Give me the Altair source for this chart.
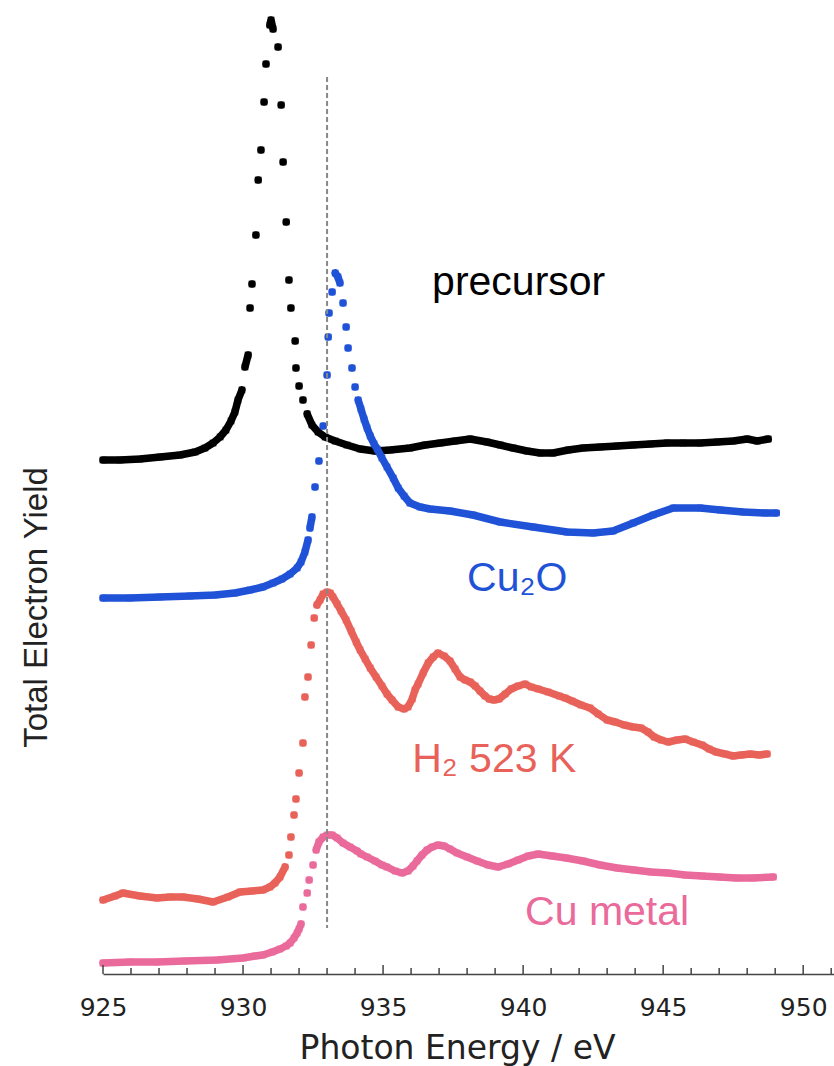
import altair as alt
import pandas as pd

# ---- data: photon energy (eV) and plotted (offset) yield (arb. units)
prec_x = [925.00, 925.61, 926.32, 927.04, 927.75, 928.29, 928.64, 928.93, 929.18, 929.39,
          929.57, 929.71, 929.82, 929.96, 930.07, 930.18, 930.25, 930.32, 930.46, 930.54,
          930.64, 930.75, 930.82, 930.96, 931.00, 931.07, 931.25, 931.36, 931.43, 931.54,
          931.64, 931.71, 931.86, 931.89, 932.00, 932.14, 932.29, 932.46, 932.68, 932.93,
          933.29, 933.71, 934.18, 934.71, 935.25, 935.96, 936.50, 937.04, 937.57, 938.11,
          938.71, 939.18, 939.64, 940.14, 940.61, 941.07, 941.61, 942.14, 942.75, 943.36,
          943.93, 944.54, 945.14, 945.71, 946.32, 946.93, 947.50, 948.00, 948.36, 948.75]
prec_y = [51.4, 51.4, 51.5, 51.7, 51.9, 52.2, 52.6, 53.1, 53.7, 54.4,
          55.3, 56.2, 57.4, 58.4, 60.7, 61.9, 66.6, 69.0, 73.9, 79.4,
          82.4, 87.2, 91.0, 94.9, 95.4, 94.5, 92.7, 86.9, 81.2, 75.2,
          69.4, 66.6, 63.3, 60.6, 58.8, 57.4, 56.0, 54.9, 54.2, 53.7,
          53.3, 52.9, 52.5, 52.3, 52.4, 52.6, 52.9, 53.1, 53.3, 53.5,
          53.2, 52.9, 52.6, 52.3, 52.1, 52.1, 52.4, 52.6, 52.7, 52.8,
          52.9, 53.0, 53.1, 53.1, 53.1, 53.2, 53.3, 53.5, 53.3, 53.5]

cu2o_x = [925.00, 925.96, 927.04, 928.11, 929.00, 929.71, 930.25, 930.71, 931.07, 931.39,
          931.68, 931.93, 932.07, 932.21, 932.32, 932.39, 932.46, 932.57, 932.71, 932.86,
          933.00, 933.04, 933.07, 933.18, 933.29, 933.39, 933.46, 933.57, 933.68, 933.75,
          933.89, 934.00, 934.11, 934.21, 934.32, 934.43, 934.54, 934.68, 934.79, 934.96,
          935.14, 935.36, 935.54, 935.75, 935.96, 936.32, 936.68, 937.39, 938.21, 939.18,
          940.36, 941.57, 942.50, 943.21, 943.93, 944.64, 945.36, 946.32, 947.04, 947.86,
          948.64, 949.04]
cu2o_y = [37.6, 37.6, 37.7, 37.8, 37.9, 38.1, 38.4, 38.7, 39.1, 39.5,
          40.0, 40.6, 41.2, 42.2, 43.4, 44.6, 45.7, 48.7, 51.3, 54.8,
          59.9, 63.7, 66.1, 68.2, 70.1, 69.7, 69.1, 67.1, 64.7, 62.6,
          60.6, 58.7, 57.4, 56.5, 55.5, 54.6, 53.8, 53.0, 52.5, 51.6,
          50.7, 49.6, 48.6, 47.8, 47.1, 46.7, 46.5, 46.3, 45.9, 45.2,
          44.7, 44.2, 44.1, 44.3, 45.1, 45.9, 46.6, 46.6, 46.4, 46.2,
          46.1, 46.1]

h2_x = [925.00, 925.43, 925.71, 926.32, 926.93, 927.39, 927.86, 928.39, 928.93, 929.46,
        929.89, 930.32, 930.71, 930.96, 931.14, 931.32, 931.50, 931.64, 931.71, 931.82,
        931.89, 932.00, 932.14, 932.21, 932.32, 932.43, 932.54, 932.64, 932.75, 932.86,
        933.00, 933.11, 933.21, 933.36, 933.50, 933.68, 933.86, 934.04, 934.18, 934.36,
        934.54, 934.75, 934.96, 935.14, 935.32, 935.54, 935.75, 935.89, 936.04, 936.14,
        936.25, 936.43, 936.61, 936.79, 936.96, 937.18, 937.39, 937.57, 937.75, 937.93,
        938.11, 938.29, 938.46, 938.64, 938.79, 938.96, 939.14, 939.36, 939.57, 939.82,
        940.07, 940.29, 940.54, 940.89, 941.29, 941.50, 941.75, 942.07, 942.39, 942.68,
        943.00, 943.29, 943.61, 943.93, 944.21, 944.46, 944.68, 944.93, 945.18, 945.50,
        945.79, 946.07, 946.39, 946.64, 946.89, 947.21, 947.50, 947.79, 948.11, 948.43,
        948.71]
h2_y = [7.4, 7.8, 8.1, 7.8, 7.6, 7.7, 7.7, 7.5, 7.2, 7.7,
        8.2, 8.3, 8.4, 8.7, 9.1, 9.7, 10.7, 11.9, 13.7, 15.9,
        17.5, 20.1, 23.1, 27.7, 29.7, 32.9, 35.6, 36.9, 37.4, 38.0,
        38.2, 38.1, 37.7, 37.0, 36.3, 35.4, 34.3, 33.2, 32.4, 31.5,
        30.6, 29.7, 28.8, 28.0, 27.4, 26.7, 26.5, 26.7, 27.5, 28.4,
        29.0, 30.1, 31.1, 31.7, 32.1, 31.8, 31.3, 30.5, 29.7, 29.4,
        29.2, 28.8, 28.3, 27.8, 27.5, 27.4, 27.5, 28.0, 28.5, 28.8,
        29.0, 28.7, 28.5, 28.2, 27.8, 27.6, 27.3, 26.9, 26.6, 26.0,
        25.4, 25.2, 24.9, 24.7, 24.6, 24.2, 23.7, 23.4, 23.2, 23.4,
        23.5, 23.2, 22.9, 22.5, 22.2, 22.0, 21.8, 21.9, 22.0, 21.9,
        22.0]

cu_x = [925.00, 925.96, 926.93, 927.93, 929.07, 930.00, 930.43, 930.71, 931.04, 931.32,
        931.54, 931.68, 931.82, 931.93, 932.00, 932.07, 932.14, 932.29, 932.36, 932.50,
        932.61, 932.71, 932.86, 933.00, 933.18, 933.36, 933.57, 933.82, 934.07, 934.21,
        934.43, 934.71, 934.96, 935.14, 935.43, 935.68, 935.89, 936.07, 936.21, 936.39,
        936.57, 936.75, 936.96, 937.18, 937.39, 937.64, 938.00, 938.36, 938.75, 939.11,
        939.46, 939.82, 940.18, 940.54, 941.04, 941.54, 942.14, 942.75, 943.36, 943.96,
        944.57, 945.18, 945.79, 946.39, 947.00, 947.61, 948.21, 948.93]
cu_y = [1.1, 1.2, 1.2, 1.3, 1.4, 1.6, 1.8, 1.9, 2.2, 2.5,
        2.8, 3.1, 3.6, 4.1, 4.5, 5.0, 6.7, 8.1, 9.4, 10.9,
        12.4, 13.2, 13.7, 13.9, 13.9, 13.6, 13.1, 12.7, 12.3, 12.0,
        11.7, 11.3, 10.9, 10.7, 10.3, 10.1, 10.3, 10.8, 11.3, 11.9,
        12.4, 12.7, 12.9, 12.8, 12.5, 12.1, 11.7, 11.3, 10.9, 10.7,
        11.0, 11.4, 11.8, 12.0, 11.8, 11.6, 11.3, 10.9, 10.6, 10.4,
        10.2, 10.1, 9.9, 9.8, 9.7, 9.6, 9.6, 9.7]

major_ticks = [925, 930, 935, 940, 945, 950]
minor_ticks = [926, 927, 928, 929, 931, 932, 933, 934, 936, 937, 938, 939,
               941, 942, 943, 944, 946, 947, 948, 949, 951]

ref_energy = [933.0]
ref_top = [89.7]
ref_bottom = [4.6]

label_text = ["precursor", "Cu\u2082O", "H\u2082 523 K", "Cu metal"]
label_x = [936.75, 938.0, 936.04, 940.07]
label_y = [67.9, 38.3, 20.2, 4.9]

series_colors = ["#000000", "#1f52d6", "#e8625a", "#ea6a9b"]

# ---- chart
W, H = 731, 974
FONT = "Liberation Sans"
AXFONT = "DejaVu Sans"
xscale = alt.Scale(domain=[925, 951.1], nice=False, zero=False)
yscale = alt.Scale(domain=[0, 97.4], nice=False, zero=False)

xaxis = alt.Axis(values=major_ticks, format="d", ticks=False, tickSize=0, grid=False,
                 domainColor="#444444", domainWidth=1.5,
                 labelFont=AXFONT, labelFontSize=25, labelColor="#222222",
                 labelPadding=21, labelFlush=False,
                 title="Photon Energy / eV", titleFont=AXFONT, titleFontSize=33,
                 titleFontWeight="normal", titleColor="#222222",
                 titleX=354, titleY=84, titleAlign="center", titleBaseline="alphabetic")
yaxis = alt.Axis(domain=False, ticks=False, labels=False, grid=False,
                 title="Total Electron Yield", titleFont=FONT, titleFontSize=33,
                 titleFontWeight="normal", titleColor="#222222",
                 titleAngle=270, titleX=-57, titleY=607, titleAlign="center",
                 titleBaseline="alphabetic")

X = alt.X("x:Q", scale=xscale, axis=xaxis)
Y = alt.Y("y:Q", scale=yscale, axis=yaxis)


def series_layers(xs, ys, color):
    df = pd.DataFrame({"x": xs, "y": ys})
    df["seg"] = (df["y"].diff().abs() > 1.2).cumsum()
    line = alt.Chart(df).mark_line(color=color, strokeWidth=7.5, strokeJoin="round",
                                   strokeCap="round").encode(x=X, y=Y, detail="seg:N")
    pts = alt.Chart(df).mark_square(color=color, size=44, opacity=1, filled=True).encode(x=X, y=Y)
    return [line, pts]


layers = []
for xs, ys, col in [(prec_x, prec_y, series_colors[0]), (cu2o_x, cu2o_y, series_colors[1]),
                    (h2_x, h2_y, series_colors[2]), (cu_x, cu_y, series_colors[3])]:
    layers += series_layers(xs, ys, col)

ref_df = pd.DataFrame({"x": ref_energy, "y": ref_top, "y2": ref_bottom})
layers.append(alt.Chart(ref_df).mark_rule(color="#888888", strokeWidth=2, strokeDash=[5, 3])
              .encode(x=X, y=Y, y2="y2:Q"))

maj_df = pd.DataFrame({"x": major_ticks})
min_df = pd.DataFrame({"x": minor_ticks})
layers.append(alt.Chart(maj_df).mark_rule(color="#444444", strokeWidth=1.5)
              .encode(x=X, y=alt.value(H), y2=alt.value(H - 9)))
layers.append(alt.Chart(min_df).mark_rule(color="#444444", strokeWidth=1.5)
              .encode(x=X, y=alt.value(H), y2=alt.value(H - 6)))

lab_df = pd.DataFrame({"x": label_x, "y": label_y, "t": label_text, "c": series_colors})
layers.append(alt.Chart(lab_df).mark_text(font=FONT, fontSize=41, align="left",
                                          baseline="alphabetic")
              .encode(x=X, y=Y, text="t:N", color=alt.Color("c:N", scale=None)))

chart = alt.layer(*layers).properties(
    width=W, height=H,
    autosize=alt.AutoSizeParams(type="none"),
    padding={"left": 103, "top": 0, "right": 0, "bottom": 92},
).configure_view(strokeWidth=0)

chart.save("out.html", embed_options={"renderer": "svg", "actions": False})
